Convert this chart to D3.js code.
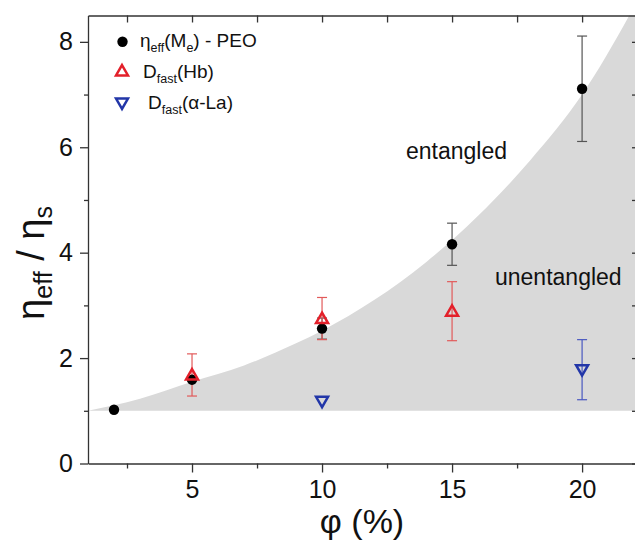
<!DOCTYPE html>
<html>
<head>
<meta charset="utf-8">
<script src="https://cdn.jsdelivr.net/npm/d3@7"></script>
<style>
  html, body { margin: 0; padding: 0; background: #fff; }
  svg { display: block; font-family: "Liberation Sans", Arial, Helvetica, sans-serif; }
</style>
</head>
<body>
<svg id="chart"></svg>
<script>
// eta_eff(Me) - PEO
var peoPhi = [2, 5, 10, 15, 20];
var peoEta = [1.02, 1.59, 2.56, 4.16, 7.11];
var peoErr = [0, 0, 0.2, 0.4, 1.0];

// D_fast(Hb)
var hbPhi = [5, 10, 15];
var hbEta = [1.68, 2.75, 2.89];
var hbErr = [0.4, 0.4, 0.56];

// D_fast(alpha-La)
var laPhi = [10, 20];
var laEta = [1.18, 1.78];
var laErr = [0, 0.57];

// upper edge of the shaded (unentangled) region
var edgePhi = [1, 3, 5, 7, 9, 10, 12, 14, 16, 18, 20, 22.15];
var edgeEta = [1.0, 1.23, 1.55, 1.86, 2.28, 2.52, 3.1, 3.82, 4.7, 5.75, 7.0, 8.8];
var edgeBase = 1;

var xTicks = [5, 10, 15, 20];
var xMinor = [2.5, 7.5, 12.5, 17.5];
var yTicks = [0, 2, 4, 6, 8];
var yMinor = [1, 3, 5, 7];

var width = 635, height = 543;
var margin = { top: 15.5, left: 88, right: 638, bottom: 463.5 };

var svg = d3.select('#chart').attr('width', width).attr('height', height);

var x = d3.scaleLinear().domain([1, 22.15]).range([margin.left, margin.right]);
var y = d3.scaleLinear().domain([0, 8.5]).range([margin.bottom, margin.top]);

svg.append('clipPath').attr('id', 'plot-clip')
  .append('rect')
  .attr('x', margin.left).attr('y', margin.top)
  .attr('width', margin.right - margin.left)
  .attr('height', margin.bottom - margin.top);

// shaded region
var edge = edgePhi.map(function (p, i) { return { phi: p, eta: edgeEta[i] }; });
var area = d3.area()
  .x(function (d) { return x(d.phi); })
  .y0(y(edgeBase))
  .y1(function (d) { return y(d.eta); })
  .curve(d3.curveMonotoneX);
svg.append('path')
  .datum(edge)
  .attr('clip-path', 'url(#plot-clip)')
  .attr('d', area)
  .attr('fill', '#d9d9d9');

// axes
var axisColor = '#333';
function styleAxis(g, fs) {
  g.selectAll('path, line').attr('stroke', axisColor).attr('stroke-width', 1.3);
  g.selectAll('text').attr('fill', '#111').attr('font-size', fs).attr('font-family', null);
}

var xAxisG = svg.append('g').attr('transform', 'translate(0,' + margin.bottom + ')')
  .call(d3.axisBottom(x).tickValues(xTicks).tickSize(9).tickSizeOuter(0).tickPadding(8).tickFormat(d3.format('d')));
styleAxis(xAxisG, 25);
svg.append('g').attr('transform', 'translate(0,' + margin.bottom + ')')
  .call(d3.axisBottom(x).tickValues(xMinor).tickSize(5).tickSizeOuter(0).tickFormat(''))
  .call(function (g) { g.select('.domain').remove(); styleAxis(g, 0); });

var yAxisG = svg.append('g').attr('transform', 'translate(' + margin.left + ',0)')
  .call(d3.axisLeft(y).tickValues(yTicks).tickSize(8).tickSizeOuter(0).tickPadding(7).tickFormat(d3.format('d')));
styleAxis(yAxisG, 25);
svg.append('g').attr('transform', 'translate(' + margin.left + ',0)')
  .call(d3.axisLeft(y).tickValues(yMinor).tickSize(4).tickSizeOuter(0).tickFormat(''))
  .call(function (g) { g.select('.domain').remove(); styleAxis(g, 0); });

// top and right frame, ticks pointing inwards
var topAxisG = svg.append('g').attr('transform', 'translate(0,' + margin.top + ')')
  .call(d3.axisTop(x).tickValues(xTicks.concat(xMinor)).tickSize(-7).tickSizeOuter(0).tickFormat(''));
styleAxis(topAxisG, 0);
var rightAxisG = svg.append('g').attr('transform', 'translate(' + margin.right + ',0)')
  .call(d3.axisRight(y).tickValues(yTicks.concat(yMinor)).tickSize(-6).tickSizeOuter(0).tickFormat(''));
styleAxis(rightAxisG, 0);

// error bars
function errorBars(phis, etas, errs, color) {
  var g = svg.append('g').attr('stroke', color).attr('stroke-width', 1.2).attr('fill', 'none');
  phis.forEach(function (p, i) {
    if (!errs[i]) return;
    var cx = x(p), hi = y(etas[i] + errs[i]), lo = y(etas[i] - errs[i]);
    g.append('line').attr('x1', cx).attr('x2', cx).attr('y1', hi).attr('y2', lo);
    g.append('line').attr('x1', cx - 5).attr('x2', cx + 5).attr('y1', hi).attr('y2', hi);
    g.append('line').attr('x1', cx - 5).attr('x2', cx + 5).attr('y1', lo).attr('y2', lo);
  });
}
errorBars(peoPhi, peoEta, peoErr, '#555');
errorBars(hbPhi, hbEta, hbErr, '#e25a5a');
errorBars(laPhi, laEta, laErr, '#4a58c0');

var triUp = d3.symbol().type(d3.symbolTriangle).size(62);
function triangle(g, cx, cy, down, color) {
  g.append('path')
    .attr('d', triUp())
    .attr('transform', 'translate(' + cx + ',' + cy + ')' + (down ? ' rotate(180)' : ''))
    .attr('fill', 'none')
    .attr('stroke', color)
    .attr('stroke-width', 2.5);
}

var marks = svg.append('g');
peoPhi.forEach(function (p, i) {
  marks.append('circle').attr('cx', x(p)).attr('cy', y(peoEta[i])).attr('r', 5.2).attr('fill', '#000');
});
hbPhi.forEach(function (p, i) { triangle(marks, x(p), y(hbEta[i]) + 1, false, '#e3202a'); });
laPhi.forEach(function (p, i) { triangle(marks, x(p), y(laEta[i]) - 1, true, '#2236a8'); });

// legend
var legend = svg.append('g').attr('fill', '#111');
legend.append('circle').attr('cx', 122.5).attr('cy', 41.7).attr('r', 5.2).attr('fill', '#000');
triangle(legend, 122, 72, false, '#e3202a');
triangle(legend, 122, 102, true, '#2236a8');

function subText(g, tx, ty, parts, fs, sub, shift) {
  var t = g.append('text').attr('x', tx).attr('y', ty).attr('font-size', fs);
  parts.forEach(function (part, i) {
    var isSub = i % 2 === 1;
    t.append('tspan')
      .attr('font-size', isSub ? sub : fs)
      .attr('dy', i === 0 ? 0 : (isSub ? shift : -shift))
      .text(part);
  });
  return t;
}
subText(legend, 140, 47, ['\u03b7', 'eff', '(M', 'e', ') - PEO'], 19, 12.5, 5);
subText(legend, 143, 77.5, ['D', 'fast', '(Hb)'], 19, 12.5, 5);
subText(legend, 148, 108.5, ['D', 'fast', '(\u03b1-La)'], 19, 12.5, 5);

// region labels
svg.append('text').attr('x', 406).attr('y', 159).attr('font-size', 23).attr('fill', '#111').text('entangled');
svg.append('text').attr('x', 495).attr('y', 285).attr('font-size', 23).attr('fill', '#111').text('unentangled');

// axis titles
svg.append('text').attr('x', 362).attr('y', 533).attr('text-anchor', 'middle')
  .attr('font-size', 34).attr('fill', '#111').text('\u03c6 (%)');

var ylab = subText(svg.append('g').attr('fill', '#111'), 0, 0, ['\u03b7', 'eff', ' / \u03b7', 's'], 38, 25, 8);
ylab.attr('text-anchor', 'middle').attr('transform', 'translate(44,263) rotate(-90)');
</script>
</body>
</html>
